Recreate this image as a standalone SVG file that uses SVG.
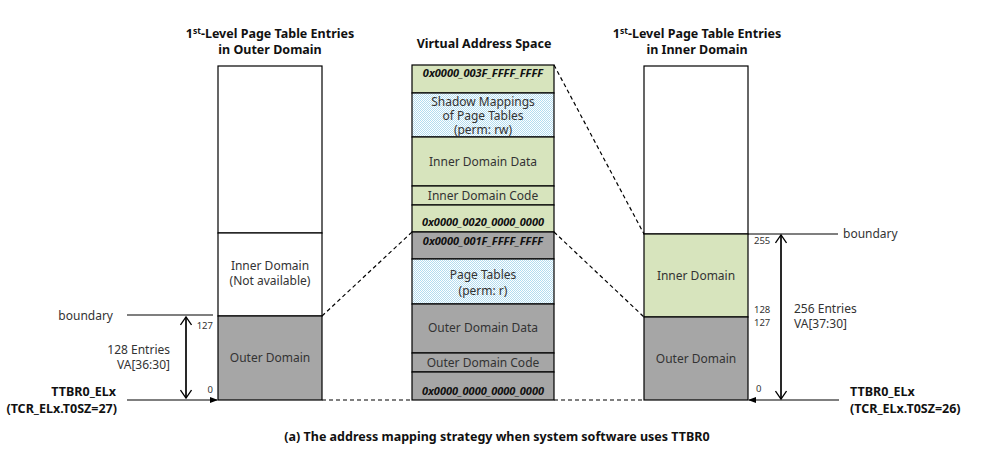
<svg xmlns="http://www.w3.org/2000/svg" width="993" height="452" viewBox="0 0 993 452">
<defs>
<pattern id="chk" width="2" height="2" patternUnits="userSpaceOnUse">
<rect width="2" height="2" fill="#ffffff"/>
<rect width="1" height="1" fill="#b3dcef"/>
<rect x="1" y="1" width="1" height="1" fill="#b3dcef"/>
</pattern>
<marker id="fill" markerWidth="8" markerHeight="8" refX="7" refY="4" orient="auto" markerUnits="userSpaceOnUse">
<path d="M0,1 L8,4 L0,7 Z" fill="#000"/>
</marker>
<marker id="open" markerWidth="12" markerHeight="12" refX="10" refY="6" orient="auto" markerUnits="userSpaceOnUse">
<path d="M2,0.5 L10,6 L2,11.5" fill="none" stroke="#000" stroke-width="1.3"/>
</marker>
</defs>
<style>
text{font-family:"Noto Sans","Open Sans","DejaVu Sans",sans-serif;fill:#222;}
.t{font-size:12.5px;font-weight:bold;fill:#111;}
.l{font-size:12px;fill:#333;}
.s{font-size:9.5px;fill:#333;}
.a{font-size:11px;font-weight:bold;font-style:italic;fill:#111;}
.b{stroke:#000;stroke-width:1.2;}
.dash{stroke:#000;stroke-width:1.2;stroke-dasharray:4,3;fill:none;}
.ln{stroke:#000;stroke-width:1.2;fill:none;}
</style>
<rect width="993" height="452" fill="#ffffff"/>

<g id="titles">
<text class="t" x="270" y="38" text-anchor="middle">1<tspan font-size="8.5" dy="-4">st</tspan><tspan dy="4">-Level Page Table Entries</tspan></text>
<text class="t" x="270" y="54" text-anchor="middle">in Outer Domain</text>
<text class="t" x="484" y="48" text-anchor="middle">Virtual Address Space</text>
<text class="t" x="697" y="38" text-anchor="middle">1<tspan font-size="8.5" dy="-4">st</tspan><tspan dy="4">-Level Page Table Entries</tspan></text>
<text class="t" x="697" y="54" text-anchor="middle">in Inner Domain</text>
</g>

<g id="outer-table">
<rect class="b" x="218" y="66" width="104" height="167" fill="#fff"/>
<rect class="b" x="218" y="233" width="104" height="83" fill="#fff"/>
<rect class="b" x="218" y="316" width="104" height="84" fill="#a6a6a6"/>
<text class="l" x="270" y="270" text-anchor="middle">Inner Domain</text>
<text class="l" x="270" y="285" text-anchor="middle">(Not available)</text>
<text class="l" x="270" y="362" text-anchor="middle">Outer Domain</text>
<text class="s" x="213" y="329" text-anchor="end">127</text>
<text class="s" x="213" y="393" text-anchor="end">0</text>
</g>

<g id="vas">
<rect class="b" x="412" y="65" width="142" height="28" fill="#d7e4bd"/>
<rect class="b" x="412" y="93" width="142" height="44" fill="url(#chk)"/>
<rect class="b" x="412" y="137" width="142" height="49" fill="#d7e4bd"/>
<rect class="b" x="412" y="186" width="142" height="19" fill="#d7e4bd"/>
<rect class="b" x="412" y="205" width="142" height="27" fill="#d7e4bd"/>
<rect class="b" x="412" y="232" width="142" height="27" fill="#a6a6a6"/>
<rect class="b" x="412" y="259" width="142" height="45" fill="url(#chk)"/>
<rect class="b" x="412" y="304" width="142" height="49" fill="#a6a6a6"/>
<rect class="b" x="412" y="353" width="142" height="19" fill="#a6a6a6"/>
<rect class="b" x="412" y="372" width="142" height="28" fill="#a6a6a6"/>
<text class="a" x="483" y="77" text-anchor="middle">0x0000_003F_FFFF_FFFF</text>
<text class="l" x="483" y="106" text-anchor="middle" font-size="11">Shadow Mappings</text>
<text class="l" x="483" y="120" text-anchor="middle" font-size="11">of Page Tables</text>
<text class="l" x="483" y="134" text-anchor="middle" font-size="9.5">(perm: rw)</text>
<text class="l" x="483" y="166" text-anchor="middle" font-size="13">Inner Domain Data</text>
<text class="l" x="483" y="200" text-anchor="middle">Inner Domain Code</text>
<text class="a" x="483" y="226" text-anchor="middle">0x0000_0020_0000_0000</text>
<text class="a" x="483" y="245" text-anchor="middle">0x0000_001F_FFFF_FFFF</text>
<text class="l" x="483" y="279" text-anchor="middle" font-size="11.5">Page Tables</text>
<text class="l" x="483" y="295" text-anchor="middle" font-size="10.5">(perm: r)</text>
<text class="l" x="483" y="332" text-anchor="middle" font-size="13">Outer Domain Data</text>
<text class="l" x="483" y="367" text-anchor="middle">Outer Domain Code</text>
<text class="a" x="483" y="395" text-anchor="middle">0x0000_0000_0000_0000</text>
</g>

<g id="inner-table">
<rect class="b" x="644" y="66" width="104" height="168" fill="#fff"/>
<rect class="b" x="644" y="234" width="104" height="83" fill="#d7e4bd"/>
<rect class="b" x="644" y="317" width="104" height="83" fill="#a6a6a6"/>
<text class="l" x="696" y="280" text-anchor="middle">Inner Domain</text>
<text class="l" x="696" y="363" text-anchor="middle">Outer Domain</text>
<text class="s" x="754" y="244">255</text>
<text class="s" x="754" y="313">128</text>
<text class="s" x="754" y="326">127</text>
<text class="s" x="756" y="392">0</text>
</g>

<g id="left-labels">
<text class="l" x="113" y="320" text-anchor="end" font-size="12.5">boundary</text>
<text class="l" x="170" y="354" text-anchor="end">128 Entries</text>
<text class="l" x="170" y="369" text-anchor="end">VA[36:30]</text>
<text class="t" x="116" y="396" text-anchor="end">TTBR0_ELx</text>
<text class="t" x="117" y="413" text-anchor="end">(TCR_ELx.T0SZ=27)</text>
</g>

<g id="right-labels">
<text class="l" x="843" y="238" font-size="12.5">boundary</text>
<text class="l" x="794" y="313">256 Entries</text>
<text class="l" x="794" y="328">VA[37:30]</text>
<text class="t" x="850" y="396">TTBR0_ELx</text>
<text class="t" x="850" y="413">(TCR_ELx.T0SZ=26)</text>
</g>

<g id="connectors">
<line class="ln" x1="127" y1="315" x2="213" y2="315"/>
<line class="ln" x1="186" y1="398" x2="186" y2="317" marker-end="url(#open)"/>
<line class="ln" x1="186" y1="317" x2="186" y2="398" marker-end="url(#open)"/>
<line class="ln" x1="127" y1="400" x2="217" y2="400" marker-end="url(#fill)"/>
<line class="ln" x1="748" y1="234" x2="838" y2="234"/>
<line class="ln" x1="781" y1="399" x2="781" y2="235" marker-end="url(#open)"/>
<line class="ln" x1="781" y1="235" x2="781" y2="399" marker-end="url(#open)"/>
<line class="ln" x1="839" y1="400" x2="749" y2="400" marker-end="url(#fill)"/>
<line class="dash" x1="322" y1="316" x2="412" y2="232"/>
<line class="dash" x1="322" y1="400" x2="412" y2="400"/>
<line class="dash" x1="554" y1="65" x2="644" y2="234"/>
<line class="dash" x1="554" y1="232" x2="644" y2="317"/>
<line class="dash" x1="554" y1="400" x2="644" y2="400"/>
</g>

<g id="caption">
<text class="t" x="497" y="441" text-anchor="middle" font-size="11.5">(a) The address mapping strategy when system software uses TTBR0</text>
</g>
</svg>
